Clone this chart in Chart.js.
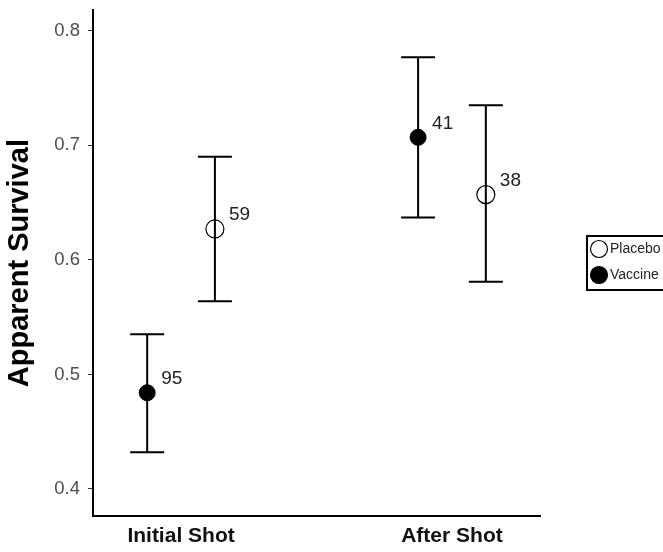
<!DOCTYPE html>
<html>
<head>
<meta charset="utf-8">
<script src="https://cdn.jsdelivr.net/npm/chart.js@4.4.1/dist/chart.umd.min.js"></script>
<style>
  html, body { margin: 0; padding: 0; background: #fff; }
  #wrap { width: 663px; height: 552px; position: relative; }
</style>
</head>
<body>
<div id="wrap"><canvas id="survival"></canvas></div>
<script>
// apparent survival by shot period, vaccine vs placebo
const categories = ['Initial Shot', 'After Shot'];
const yTicks = [0.4, 0.5, 0.6, 0.7, 0.8];

const vaccineMean  = [0.484, 0.707];
const vaccineLow   = [0.432, 0.637];
const vaccineHigh  = [0.535, 0.777];
const vaccineN     = [95, 41];

const placeboMean  = [0.627, 0.657];
const placeboLow   = [0.564, 0.581];
const placeboHigh  = [0.690, 0.735];
const placeboN     = [59, 38];

const dodge = 0.125;
const FONT = '"Liberation Sans", Arial, sans-serif';

const mkPoints = (means, lows, highs, ns, off) =>
  means.map((m, i) => ({ x: i + 1 + off, y: m, lo: lows[i], hi: highs[i], n: ns[i] }));

// error bars + count labels, drawn from the dataset values through the scales
const errorBars = {
  id: 'errorBars',
  beforeDatasetsDraw(chart) {
    const { ctx, scales: { x, y } } = chart;
    ctx.save();
    ctx.strokeStyle = '#000';
    ctx.lineWidth = 2;
    chart.data.datasets.forEach(ds => {
      ds.data.forEach(p => {
        const px = x.getPixelForValue(p.x);
        const top = y.getPixelForValue(p.hi);
        const bot = y.getPixelForValue(p.lo);
        ctx.beginPath();
        ctx.moveTo(px, top); ctx.lineTo(px, bot);
        ctx.moveTo(px - 17, top); ctx.lineTo(px + 17, top);
        ctx.moveTo(px - 17, bot); ctx.lineTo(px + 17, bot);
        ctx.stroke();
      });
    });
    ctx.restore();
  },
  afterDatasetsDraw(chart) {
    const { ctx, scales: { x, y } } = chart;
    ctx.save();
    ctx.font = '19px ' + FONT;
    ctx.fillStyle = '#222';
    ctx.textAlign = 'left';
    ctx.textBaseline = 'middle';
    chart.data.datasets.forEach(ds => {
      ds.data.forEach(p => {
        ctx.fillText(String(p.n), x.getPixelForValue(p.x) + 14, y.getPixelForValue(p.y) - 14);
      });
    });
    ctx.restore();
  }
};

// boxed legend on the right, like the ggplot one
const boxLegend = {
  id: 'boxLegend',
  afterDraw(chart) {
    const { ctx } = chart;
    const bx = 587, by = 236, bw = 80, bh = 54;
    ctx.save();
    ctx.lineWidth = 2;
    ctx.strokeStyle = '#000';
    ctx.strokeRect(bx, by, bw, bh);
    ctx.font = '14px ' + FONT;
    ctx.textBaseline = 'middle';
    chart.data.datasets.slice().reverse().forEach((ds, i) => {
      const cy = by + 13 + i * 26;
      ctx.beginPath();
      ctx.arc(bx + 12, cy, 8.5, 0, Math.PI * 2);
      ctx.lineWidth = 1.2;
      if (ds.backgroundColor !== 'rgba(0,0,0,0)') { ctx.fillStyle = '#000'; ctx.fill(); }
      ctx.stroke();
      ctx.fillStyle = '#222';
      ctx.fillText(ds.label, bx + 23, cy);
    });
    ctx.restore();
  }
};

new Chart(document.getElementById('survival'), {
  type: 'scatter',
  data: {
    datasets: [
      {
        label: 'Vaccine',
        data: mkPoints(vaccineMean, vaccineLow, vaccineHigh, vaccineN, -dodge),
        pointRadius: 8,
        pointHoverRadius: 8,
        backgroundColor: '#000',
        borderColor: '#000',
        borderWidth: 1
      },
      {
        label: 'Placebo',
        data: mkPoints(placeboMean, placeboLow, placeboHigh, placeboN, dodge),
        pointRadius: 9,
        pointHoverRadius: 9,
        backgroundColor: 'rgba(0,0,0,0)',
        borderColor: '#000',
        borderWidth: 1.2
      }
    ]
  },
  plugins: [errorBars, boxLegend],
  options: {
    responsive: true,
    maintainAspectRatio: false,
    animation: false,
    layout: { padding: { top: 10, right: 123, left: 0, bottom: 0 } },
    plugins: {
      legend: { display: false },
      tooltip: { enabled: false }
    },
    scales: {
      x: {
        type: 'linear',
        min: 0.675,
        max: 2.325,
        afterBuildTicks: s => { s.ticks = categories.map((_, i) => ({ value: i + 1 })); },
        afterFit: s => { s.height = 36; s.paddingLeft = 0; s.paddingRight = 0; },
        grid: { display: false, drawTicks: false },
        border: { color: '#000', width: 2 },
        ticks: {
          padding: 8,
          color: '#111',
          font: { family: FONT, size: 21, weight: 'bold' },
          callback: v => categories[Math.round(v) - 1]
        }
      },
      y: {
        min: 0.3764,
        max: 0.818,
        afterBuildTicks: s => { s.ticks = yTicks.map(v => ({ value: v })); },
        afterFit: s => { s.width = 93; s.paddingTop = 0; s.paddingBottom = 0; },
        grid: { drawOnChartArea: false, tickLength: 5, color: '#333', tickWidth: 1 },
        border: { color: '#000', width: 2 },
        title: {
          display: true,
          text: 'Apparent Survival',
          color: '#000',
          padding: { top: 3, bottom: 0 },
          font: { family: FONT, size: 29, weight: 'bold' }
        },
        ticks: {
          padding: 8,
          color: '#4d4d4d',
          font: { family: FONT, size: 18.5 },
          callback: v => v.toFixed(1)
        }
      }
    }
  }
});
</script>
</body>
</html>
